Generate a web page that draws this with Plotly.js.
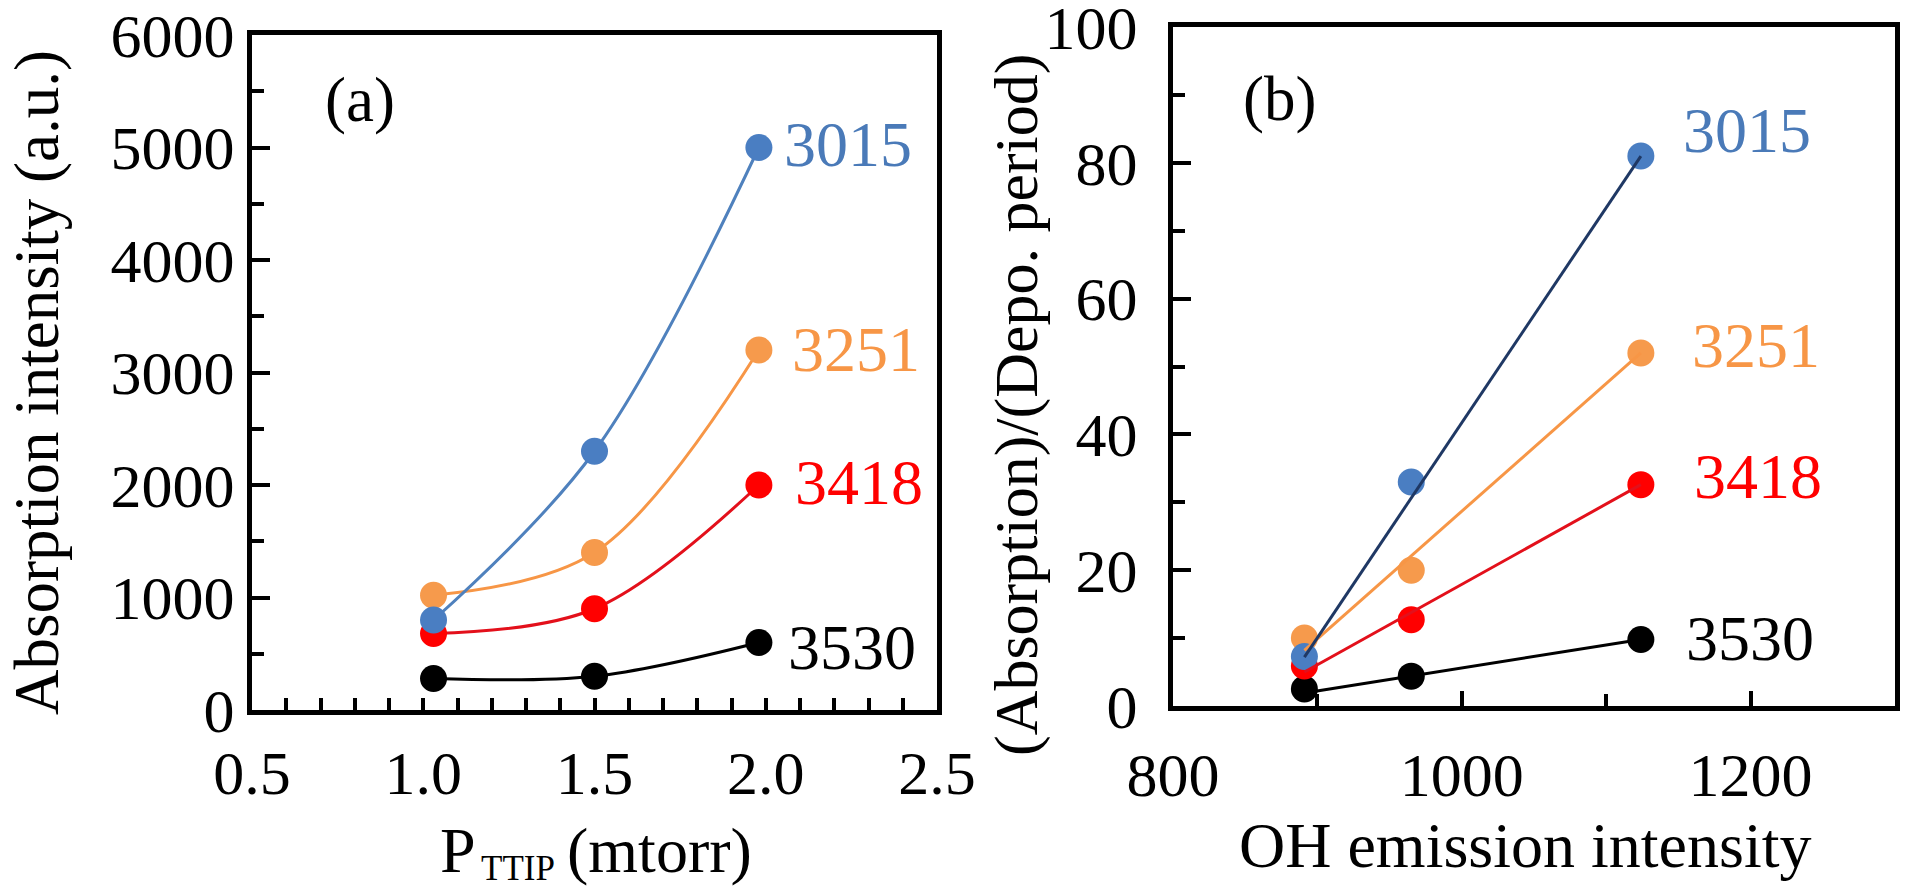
<!DOCTYPE html>
<html>
<head>
<meta charset="utf-8">
<script src="https://cdn.plot.ly/plotly-3.0.1.min.js"></script>
<style>html,body{margin:0;padding:0;background:#fff;}#chart{width:1910px;height:886px;}</style>
</head>
<body>
<div id="chart"></div>
<script>
// ---- data (a) ----
const seriesNames = ["3015", "3251", "3418", "3530"];
const pTTIP = [1.03, 1.5, 1.98];
const absorb3015 = [800, 2300, 5000];
const absorb3251 = [1020, 1400, 3200];
const absorb3418 = [680, 900, 2000];
const absorb3530 = [280, 300, 600];
// ---- data (b) ----
const ohEmission = [891, 965, 1124];
const ratio3015 = [7.3, 33, 81];
const ratio3251 = [10, 20, 52];
const ratio3418 = [5.9, 12.7, 32.6];
const ratio3530 = [2.5, 4.4, 9.8];
const fitX = [891, 1124];
const fit3015 = [7.2, 81];
const fit3251 = [8.2, 52];
const fit3418 = [5.0, 32.6];
const fit3530 = [1.9, 9.8];
// tick labels
const xTicksA = [0.5, 1.0, 1.5, 2.0, 2.5];
const xTickTextA = ["0.5", "1.0", "1.5", "2.0", "2.5"];
const yTicksA = [0, 1000, 2000, 3000, 4000, 5000, 6000];
const xTicksB = [800, 1000, 1200];
const yTicksB = [0, 20, 40, 60, 80, 100];

const W = 1910, H = 886;
const FONT = "Liberation Serif";
const markerColors = ["#4A7EC2", "#F69A4C", "#FF0000", "#000000"];
const lineColorsA = ["#4F81BD", "#F79646", "#E3101B", "#000000"];
const lineColorsB = ["#1F3864", "#F79646", "#E3101B", "#000000"];
const labelColors = ["#4A7AB8", "#F79646", "#FF0000", "#000000"];

const absA = [absorb3015, absorb3251, absorb3418, absorb3530];
const ratB = [ratio3015, ratio3251, ratio3418, ratio3530];
const fitB = [fit3015, fit3251, fit3418, fit3530];

const traces = [];
for (let i = 3; i >= 0; i--) {
  traces.push({
    x: pTTIP, y: absA[i], xaxis: "x", yaxis: "y", type: "scatter", mode: "lines+markers",
    line: {color: lineColorsA[i], width: 3, shape: "spline", smoothing: 1},
    marker: {color: markerColors[i], size: 27},
    showlegend: false, hoverinfo: "skip"
  });
}
for (let i = 3; i >= 0; i--) {
  traces.push({
    x: ohEmission, y: ratB[i], xaxis: "x2", yaxis: "y2", type: "scatter", mode: "markers",
    marker: {color: markerColors[i], size: 27},
    showlegend: false, hoverinfo: "skip"
  });
}
for (let i = 3; i >= 0; i--) {
  traces.push({
    x: fitX, y: fitB[i], xaxis: "x2", yaxis: "y2", type: "scatter", mode: "lines",
    line: {color: lineColorsB[i], width: 3},
    showlegend: false, hoverinfo: "skip"
  });
}

const px = v => v / W;
const py = v => 1 - v / H;

function axisBase() {
  return {
    showline: true, mirror: true, linecolor: "#000", linewidth: 5,
    ticks: "inside", tickcolor: "#000", tickwidth: 4,
    showgrid: false, zeroline: false, ticklabeloverflow: "allow",
    tickfont: {family: FONT, size: 62, color: "#000"}
  };
}

const labelPosA = [[848, 144], [856, 349], [859, 482], [852, 647]];
const labelPosB = [[1747, 130], [1756, 345], [1758, 476], [1750, 638]];

const annotations = [];
function addText(text, x, y, size, color, angle) {
  annotations.push({text: text, xref: "paper", yref: "paper", x: px(x), y: py(y),
    showarrow: false, xanchor: "center", yanchor: "middle", textangle: angle || 0,
    font: {family: FONT, size: size, color: color || "#000"}});
}
seriesNames.forEach((n, i) => {
  addText(n, labelPosA[i][0], labelPosA[i][1], 64, labelColors[i]);
  addText(n, labelPosB[i][0], labelPosB[i][1], 64, labelColors[i]);
});
addText("(a)", 360, 100, 63);
addText("(b)", 1279, 99, 63);
addText("Absorption intensity (a.u.)", 37, 383, 63, "#000", -90);
addText("(Absorption)/(Depo. period)", 1016, 404, 62, "#000", -90);
addText("P", 458, 850, 64);
addText("TTIP", 518, 868, 35);
addText("(mtorr)", 659, 850, 64);
addText("OH emission intensity", 1525, 845, 64);

const layout = {
  width: W, height: H,
  margin: {l: 0, r: 0, t: 0, b: 0},
  paper_bgcolor: "#fff", plot_bgcolor: "#fff",
  font: {family: FONT, color: "#000"},
  showlegend: false,
  xaxis: Object.assign(axisBase(), {
    domain: [px(252), px(937)], range: [0.5, 2.5],
    tickmode: "array", tickvals: xTicksA, ticktext: xTickTextA, ticklen: 12,
    minor: {dtick: 0.1, ticks: "inside", ticklen: 12, tickwidth: 4, tickcolor: "#000", showgrid: false},
    ticklabelstandoff: 5, anchor: "y"
  }),
  yaxis: Object.assign(axisBase(), {
    domain: [py(710), py(35)], range: [0, 6000.01],
    tickmode: "array", tickvals: yTicksA, ticklen: 18,
    minor: {dtick: 500, ticks: "inside", ticklen: 12, tickwidth: 4, tickcolor: "#000", showgrid: false},
    ticklabelstandoff: 0, anchor: "x"
  }),
  xaxis2: Object.assign(axisBase(), {
    domain: [px(1173), px(1895)], range: [800, 1300],
    tickmode: "array", tickvals: xTicksB, ticklen: 15,
    minor: {dtick: 100, tick0: 800, ticks: "inside", ticklen: 12, tickwidth: 4, tickcolor: "#000", showgrid: false},
    ticklabelstandoff: 11, anchor: "y2"
  }),
  yaxis2: Object.assign(axisBase(), {
    domain: [py(706), py(27)], range: [0, 100.01],
    tickmode: "array", tickvals: yTicksB, ticklen: 18,
    minor: {dtick: 10, ticks: "inside", ticklen: 12, tickwidth: 4, tickcolor: "#000", showgrid: false},
    ticklabelstandoff: 18, anchor: "x2"
  }),
  annotations: annotations
};

Plotly.newPlot("chart", traces, layout, {staticPlot: true, displayModeBar: false});
</script>
</body>
</html>
